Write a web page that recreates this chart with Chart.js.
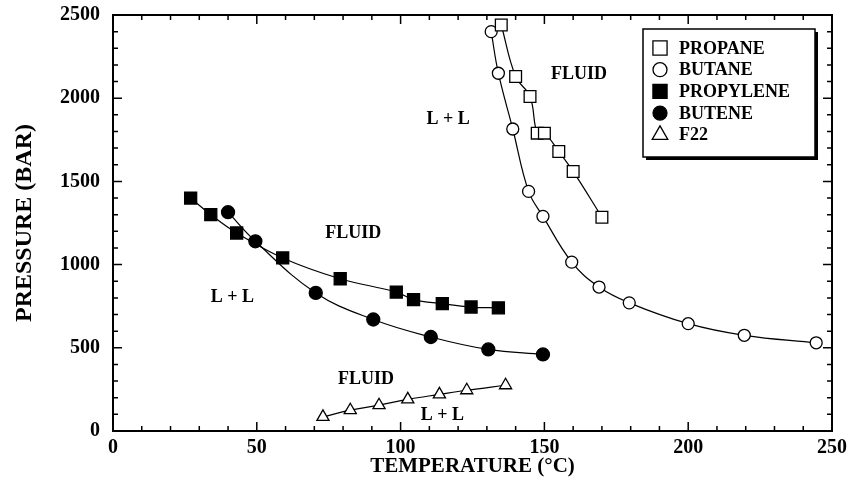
<!DOCTYPE html>
<html lang="en">
<head>
<meta charset="UTF-8" />
<title>Pressure vs Temperature</title>
<style>
  * {margin:0; padding:0; box-sizing:border-box;}
  html, body {background:#fff; width:848px; height:484px; overflow:hidden;}
</style>
</head>
<body>
<canvas id="ptChart" width="848" height="484"></canvas>

<script src="https://cdn.jsdelivr.net/npm/chart.js"></script>
<script>
  // values: temperature (°C) and pressure (bar)
  const propaneT = [135, 140, 145, 147.5, 150, 155, 160, 170];
  const propaneP = [2440, 2130, 2010, 1790, 1790, 1680, 1560, 1285];

  const butaneT = [131.5, 134, 139, 144.5, 149.5, 159.5, 169, 179.5, 200, 219.5, 244.5];
  const butaneP = [2400, 2150, 1815, 1440, 1290, 1015, 865, 770, 645, 575, 530];

  const propyleneT = [27, 34, 43, 59, 79, 98.5, 104.5, 114.5, 124.5, 134];
  const propyleneP = [1400, 1300, 1190, 1040, 915, 835, 790, 765, 745, 740];

  const buteneT = [40, 49.5, 70.5, 90.5, 110.5, 130.5, 149.5];
  const buteneP = [1315, 1140, 830, 670, 565, 490, 460];

  const f22T = [73, 82.5, 92.5, 102.5, 113.5, 123, 136.5];
  const f22P = [85, 125, 155, 190, 220, 245, 275];

  const seriesNames = ['PROPANE', 'BUTANE', 'PROPYLENE', 'BUTENE', 'F22'];

  // phase region labels placed in data units
  const regionText = ['FLUID', 'L + L', 'FLUID', 'L + L', 'FLUID', 'L + L'];
  const regionT = [162, 116.5, 83.5, 41.5, 88, 114.5];
  const regionP = [2145, 1870, 1190, 805, 312, 96];

  const xMin = 0, xMax = 250, xStep = 50, xMinor = 10;
  const yMin = 0, yMax = 2500, yStep = 500, yMinor = 100;

  const serif = '"Liberation Serif", "Times New Roman", serif';
  const pts = (xs, ys) => xs.map((v, i) => ({x: v, y: ys[i]}));

  function series(label, xs, ys, style, filled, radius) {
    return {
      label: label,
      data: pts(xs, ys),
      showLine: true,
      borderColor: '#000',
      borderWidth: 1.2,
      tension: 0.4,
      pointStyle: style,
      pointRadius: radius,
      pointBorderWidth: 1.3,
      pointBorderColor: '#000',
      pointBackgroundColor: filled ? '#000' : '#fff'
    };
  }

  const frameAndText = {
    id: 'frameAndText',
    beforeDatasetsDraw(chart) {
      const {ctx, chartArea: a, scales: {x, y}} = chart;
      ctx.save();
      ctx.strokeStyle = '#000';
      ctx.lineWidth = 1.5;
      ctx.beginPath();
      for (let t = xMin; t <= xMax; t += xMinor) {
        const px = x.getPixelForValue(t);
        const len = t % xStep === 0 ? 9 : 5;
        ctx.moveTo(px, a.bottom); ctx.lineTo(px, a.bottom - len);
        ctx.moveTo(px, a.top); ctx.lineTo(px, a.top + len);
      }
      for (let p = yMin; p <= yMax; p += yMinor) {
        const py = y.getPixelForValue(p);
        const len = p % yStep === 0 ? 9 : 5;
        ctx.moveTo(a.left, py); ctx.lineTo(a.left + len, py);
        ctx.moveTo(a.right, py); ctx.lineTo(a.right - len, py);
      }
      ctx.stroke();
      ctx.lineWidth = 2;
      ctx.strokeRect(a.left, a.top, a.right - a.left, a.bottom - a.top);
      ctx.restore();
    },
    afterDatasetsDraw(chart) {
      const {ctx, scales: {x, y}} = chart;
      ctx.save();
      ctx.fillStyle = '#000';
      ctx.font = 'bold 18px ' + serif;
      ctx.textAlign = 'center';
      ctx.textBaseline = 'middle';
      regionText.forEach((txt, i) => {
        ctx.fillText(txt, x.getPixelForValue(regionT[i]), y.getPixelForValue(regionP[i]));
      });

      // legend box with drop shadow
      const bx = 643, by = 29, bw = 172, bh = 128;
      ctx.fillRect(bx + 3, by + 3, bw, bh);
      ctx.fillStyle = '#fff';
      ctx.fillRect(bx, by, bw, bh);
      ctx.lineWidth = 1.5;
      ctx.strokeStyle = '#000';
      ctx.strokeRect(bx, by, bw, bh);

      const legendR = {rect: 10, circle: 7, triangle: 9};
      ctx.textAlign = 'left';
      chart.data.datasets.forEach((ds, i) => {
        const ry = by + 19 + i * 21.7;
        ctx.fillStyle = ds.pointBackgroundColor;
        ctx.strokeStyle = '#000';
        ctx.lineWidth = 1.3;
        Chart.helpers.drawPoint(ctx, {
          pointStyle: ds.pointStyle, radius: legendR[ds.pointStyle], rotation: 0, borderWidth: 1.3
        }, bx + 17, ry);
        ctx.fillStyle = '#000';
        ctx.fillText(ds.label, bx + 36, ry + 1);
      });
      ctx.restore();
    }
  };

  function fixAxis(size, horizontal) {
    return function(scale) {
      if (horizontal) scale.height = size; else scale.width = size;
      scale.paddingTop = 0; scale.paddingBottom = 0;
      scale.paddingLeft = 0; scale.paddingRight = 0;
    };
  }

  const plainNum = v => String(v);

  new Chart(document.getElementById('ptChart'), {
    type: 'scatter',
    data: {
      datasets: [
        series(seriesNames[0], propaneT, propaneP, 'rect', false, 8.3),
        series(seriesNames[1], butaneT, butaneP, 'circle', false, 6),
        series(seriesNames[2], propyleneT, propyleneP, 'rect', true, 8.5),
        series(seriesNames[3], buteneT, buteneP, 'circle', true, 6.5),
        series(seriesNames[4], f22T, f22P, 'triangle', false, 7)
      ]
    },
    options: {
      responsive: false,
      animation: false,
      layout: {padding: {top: 15, right: 16, left: 0, bottom: 0}},
      plugins: {legend: {display: false}, tooltip: {enabled: false}},
      scales: {
        x: {
          type: 'linear', min: xMin, max: xMax,
          grid: {display: false, drawTicks: false},
          border: {display: false},
          ticks: {stepSize: xStep, padding: 5, color: '#000', callback: plainNum,
                  font: {family: serif, size: 20, weight: 'bold'}},
          title: {display: true, text: 'TEMPERATURE (°C)', color: '#000', padding: {top: 0, bottom: 5},
                  font: {family: serif, size: 21, weight: 'bold'}},
          afterFit: fixAxis(53, true)
        },
        y: {
          type: 'linear', min: yMin, max: yMax,
          grid: {display: false, drawTicks: false},
          border: {display: false},
          ticks: {stepSize: yStep, padding: 13, color: '#000', callback: plainNum,
                  font: {family: serif, size: 20, weight: 'bold'}},
          title: {display: true, text: 'PRESSURE (BAR)', color: '#000', padding: {top: 10, bottom: 0},
                  font: {family: serif, size: 24, weight: 'bold'}},
          afterFit: fixAxis(113, false)
        }
      }
    },
    plugins: [frameAndText]
  });
</script>
</body>
</html>
